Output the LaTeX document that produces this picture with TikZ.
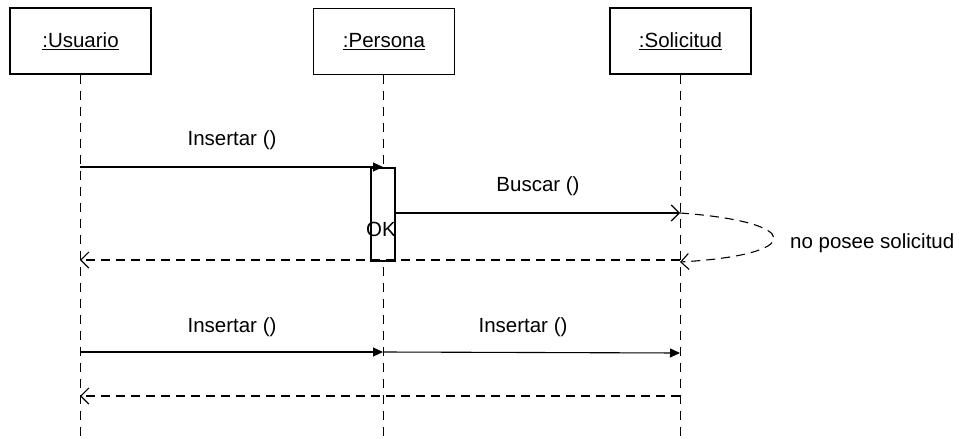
\documentclass[tikz,border=0pt]{standalone}
\usepackage{fontspec}
\setmainfont{Liberation Sans}
\usetikzlibrary{arrows.meta}
\begin{document}
\begin{tikzpicture}[x=1pt,y=-1pt,
  txt/.style={font=\fontsize{20.5}{24}\selectfont},
  obj/.style={draw, line width=1.1pt, minimum width=141pt, minimum height=66pt, inner sep=0pt, txt},
  life/.style={line width=1pt, dash pattern=on 9pt off 7pt},
  act/.style={draw, line width=1.1pt, minimum width=24pt, minimum height=93pt, inner sep=0pt},
  call/.style={line width=1.1pt, -{Triangle[length=10pt,width=9pt]}},
  async/.style={line width=1.1pt, -{Straight Barb[length=8pt,width=16pt]}},
  reply/.style={line width=1.1pt, dash pattern=on 9pt off 6pt, -{Straight Barb[length=8pt,width=16pt]}},
  lbl/.style={txt, inner sep=0pt}]

\useasboundingbox (0,0) rectangle (959,439);

% object boxes
\node[obj] (usr) at (80.5,41) {\underline{:Usuario}};
\node[obj] (per) at (384,41.5) {\underline{:Persona}};
\node[obj] (sol) at (680.5,41) {\underline{:Solicitud}};

% lifeline ends
\coordinate (usrEnd) at (80,439);
\coordinate (perEnd) at (383,439);
\coordinate (solEnd) at (680,439);

% lifelines
\draw[life] (usr.south -| usrEnd) -- (usrEnd);
\draw[life] (per.south -| perEnd) -- (perEnd);
\draw[life] (sol.south -| solEnd) -- (solEnd);

% activation on :Persona
\node[act, fill=white] (actP) at (383,214.5) {};
\node[lbl, anchor=east] (ok) at (396,229) {OK};

% message anchor points
\coordinate (u1) at (80,167);
\coordinate (p1) at (383,167);
\coordinate (s1) at (680,213);
\coordinate (s2) at (680,262);
\coordinate (r1s) at (680,260);
\coordinate (r1u) at (80,260);
\coordinate (u3) at (80,352);
\coordinate (p3) at (383,352);
\coordinate (s3) at (680,353);
\coordinate (r2s) at (680,396);
\coordinate (r2u) at (80,396);

% first call: Insertar ()
\draw[call] (u1) -- (p1);
\node[lbl] (m1) at (232,140) {Insertar ()};

% Buscar ()
\draw[async] (actP.east |- s1) -- (s1);
\node[lbl] (m2) at (538,186) {Buscar ()};

% self message
\draw[reply] (s1) .. controls (805,222) and (805,255) .. (s2);
\node[lbl, anchor=west] (m3) at (790,243) {no posee solicitud};

% return to :Usuario
\draw[reply] (r1s) -- (r1u);

% second sequence
\draw[call] (u3) -- (p3);
\node[lbl] (m4) at (232,327) {Insertar ()};
\draw[call] (p3) -- (s3);
\node[lbl] (m5) at (523,327) {Insertar ()};
\draw[reply] (r2s) -- (r2u);
\end{tikzpicture}
\end{document}
